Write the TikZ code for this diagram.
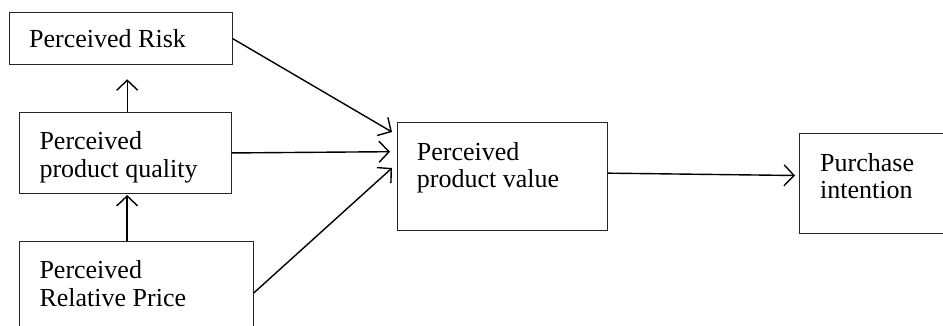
\documentclass[tikz,border=0pt]{standalone}
\usepackage{fontspec}
\setmainfont{Liberation Serif}
\usetikzlibrary{arrows.meta,calc}

\tikzset{
  box/.style={draw=black!85, line width=1pt, rectangle, inner sep=0pt, anchor=north west},
  label text/.style={anchor=base west, inner sep=0pt, align=left,
    font=\fontsize{26}{28}\selectfont},
  link/.style={draw=black, line width=1.4pt,
    -{Straight Barb[length=10pt, width=21pt, line width=1.4pt]}},
}

\begin{document}
\begin{tikzpicture}[x=1pt, y=-1pt]
  \useasboundingbox (0,0) rectangle (943,326);
  \clip (0,0) rectangle (943,326);
  \fill[white] (0,0) rectangle (943,326);

  % boxes
  \node[box, minimum width=223pt, minimum height=52pt] (risk) at (8.5,12) {};
  \node[box, minimum width=212pt, minimum height=81.5pt] (quality) at (19,111.7) {};
  \node[box, minimum width=233.5pt, minimum height=104pt] (price) at (19,240.7) {};
  \node[box, minimum width=210pt, minimum height=108.3pt] (value) at (396.7,121.7) {};
  \node[box, minimum width=160pt, minimum height=100pt] (purchase) at (799,132.7) {};

  % labels (base anchor sits on the last line)
  \node[label text] (risktxt) at (29,47.3) {Perceived Risk};
  \node[label text] (qualitytxt) at (39.3,177.5) {Perceived\\product quality};
  \node[label text] (pricetxt) at (39.3,306) {Perceived\\Relative Price};
  \node[label text] (valuetxt) at (416.7,188) {Perceived\\product value};
  \node[label text] (purchasetxt) at (820,199) {Purchase\\intention};

  % connectors
  \draw[link] (risk.east) -- ([xshift=-4.7pt,yshift=-10.3pt]value.north west);
  \draw[link] (quality.east) -- ([xshift=-6.7pt,yshift=-30pt]value.north west);
  \draw[link] (price.east) -- ([xshift=-4.7pt,yshift=-46.3pt]value.north west);
  \draw[link] ([xshift=1.7pt]quality.north) -- ([xshift=1.7pt,yshift=32.4pt]quality.north);
  \draw[link] ([xshift=-9.1pt]price.north) -- ([xshift=-9.1pt,yshift=45.7pt]price.north);
  \draw[link] ([yshift=3.2pt]value.east) -- ([xshift=-4pt,yshift=7.7pt]purchase.west);
\end{tikzpicture}
\end{document}
